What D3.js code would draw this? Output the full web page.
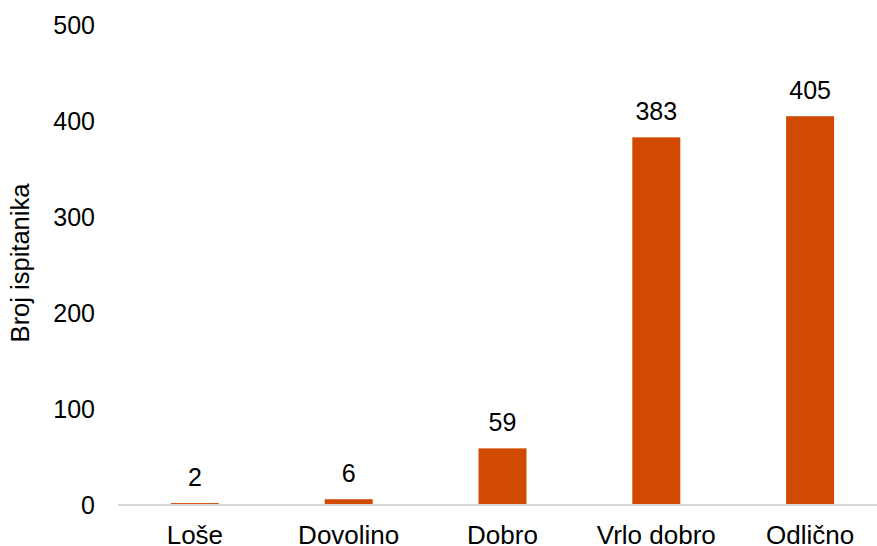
<!DOCTYPE html>
<html><head><meta charset="utf-8">
<script src="https://cdn.jsdelivr.net/npm/d3@7"></script>
<style>html,body{margin:0;padding:0;background:#fff;overflow:hidden}</style>
</head><body>
<svg id="c" width="877" height="546"></svg>
<script>
const categories = ["Loše", "Dovolino", "Dobro", "Vrlo dobro", "Odlično"];
const values = [2, 6, 59, 383, 405];
const yTicks = [0, 100, 200, 300, 400, 500];
const yTitle = "Broj ispitanika";

const svg = d3.select("#c");
const font = "'Liberation Sans', Arial, sans-serif";
const x = d3.scaleBand().domain(categories).range([118, 887]).paddingInner(0.688).paddingOuter(0.344);
const y = d3.scaleLinear().domain([0, 500]).range([505, 25]);

// y tick labels
svg.append("g").selectAll("text").data(yTicks).join("text")
  .attr("x", 95).attr("y", d => y(d)).attr("dy", "0.35em")
  .attr("text-anchor", "end").attr("font-family", font).attr("font-size", 25)
  .attr("fill", "#000").text(d => d);

// bars
svg.append("g").selectAll("rect").data(values).join("rect")
  .attr("x", (d, i) => x(categories[i])).attr("width", x.bandwidth())
  .attr("y", d => y(d)).attr("height", d => y(0) - y(d))
  .attr("fill", "#D04A02");

// axis line
svg.append("line").attr("x1", 118).attr("x2", 887).attr("y1", y(0)).attr("y2", y(0))
  .attr("stroke", "#d9d9d9").attr("stroke-width", 2);

// value labels
svg.append("g").selectAll("text").data(values).join("text")
  .attr("x", (d, i) => x(categories[i]) + x.bandwidth() / 2)
  .attr("y", d => y(d) - 17.5)
  .attr("text-anchor", "middle").attr("font-family", font).attr("font-size", 25)
  .attr("fill", "#000").text(d => d);

// category labels
svg.append("g").selectAll("text").data(categories).join("text")
  .attr("x", d => x(d) + x.bandwidth() / 2).attr("y", 544)
  .attr("text-anchor", "middle").attr("font-family", font).attr("font-size", 26)
  .attr("fill", "#000").text(d => d);

// y title
svg.append("text").attr("transform", `translate(29,${(y(0) + y(500)) / 2 - 2}) rotate(-90)`)
  .attr("text-anchor", "middle").attr("font-family", font).attr("font-size", 25.5)
  .attr("fill", "#000").text(yTitle);
</script>
</body></html>
